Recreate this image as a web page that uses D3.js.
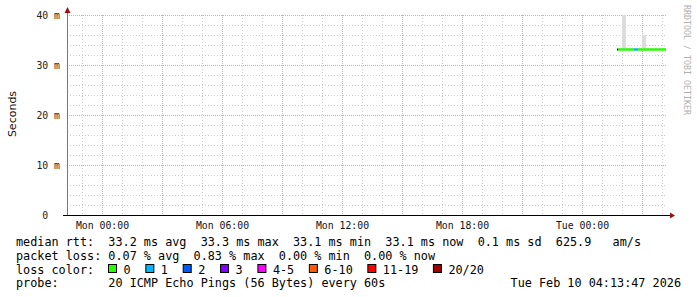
<!DOCTYPE html>
<html>
<head>
<meta charset="utf-8">
<script src="https://cdn.jsdelivr.net/npm/d3@7"></script>
<style>
  body { margin: 0; background: #fff; }
  svg text { white-space: pre; }
</style>
</head>
<body>
<svg id="chart" width="697" height="297"></svg>
<script>
// graph window: 30 hours ending at the time stamp
const endTime = new Date(Date.UTC(2026, 1, 10, 4, 13, 47));
const spanHours = 30;

// first sample (unknown loss), then 12-minute steps
const leadStartMin = 150;     // minutes before end
const leadMedian = 33.1;
const stepMinutes = 12;
const medianMs = [33.1, 33.1, 33.1, 33.1, 33.1, 33.1, 33.1, 33.1, 33.1, 33.1, 33.1, 33.1];
const lossCount = [0, 0, 0, 0, 1, 0, 0, 0, 0, 0, 0, 0];
const smokeHiMs = [33.4, 41.0, 33.4, 33.4, 33.4, 33.4, 36.0, 33.4, 33.4, 33.4, 33.4, 33.4];
const smokeLoMs = [32.9, 32.9, 32.9, 32.9, 32.9, 32.9, 32.9, 32.9, 32.9, 32.9, 32.9, 32.9];

const yTicks = [0, 10, 20, 30, 40];

const statsLines = [
  'median rtt:  33.2 ms avg  33.3 ms max  33.1 ms min  33.1 ms now  0.1 ms sd  625.9   am/s',
  'packet loss: 0.07 % avg  0.83 % max  0.00 % min  0.00 % now'
];
const lossLabels = ['0', '1', '2', '3', '4-5', '6-10', '11-19', '20/20'];
const lossColors = ['#26ff00', '#00b8ff', '#0059ff', '#7e00ff', '#ff00ff', '#ff5a00', '#ff0000', '#a00000'];
const probeText = 'probe:       20 ICMP Echo Pings (56 Bytes) every 60s';
const stampText = 'Tue Feb 10 04:13:47 2026';

const mono = '"DejaVu Sans Mono", monospace';
const margin = {left: 67, right: 30, top: 15};
const plotW = 600, plotH = 200;

const svg = d3.select('#chart');

const x = d3.scaleUtc()
  .domain([d3.utcHour.offset(endTime, -spanHours), endTime])
  .range([margin.left, margin.left + plotW]);
const y = d3.scaleLinear().domain([0, 40]).range([margin.top + plotH, margin.top]);

function lossColor(n) {
  if (n === null) return '#000';
  if (n <= 3) return lossColors[n];
  if (n <= 5) return lossColors[4];
  if (n <= 10) return lossColors[5];
  if (n <= 19) return lossColors[6];
  return lossColors[7];
}

// grid
const grid = svg.append('g');
const x0 = x.range()[0], x1 = x.range()[1];
const yTop = y(40), yBot = y(0);

d3.range(2, 40, 2).filter(v => v % 10 !== 0).forEach(v => {
  grid.append('line').attr('x1', x0).attr('x2', x1).attr('y1', y(v) + 0.5).attr('y2', y(v) + 0.5)
    .attr('stroke', '#cfcfcf').attr('stroke-dasharray', '1,2');
});
const hours = d3.utcHour.range(x.domain()[0], x.domain()[1]);
hours.filter(h => h.getUTCHours() % 3 !== 0).forEach(h => {
  const px = Math.round(x(h)) + 0.5;
  grid.append('line').attr('x1', px).attr('x2', px).attr('y1', yTop).attr('y2', yBot)
    .attr('stroke', '#cfcfcf').attr('stroke-dasharray', '1,2');
});
yTicks.filter(v => v > 0).forEach(v => {
  grid.append('line').attr('x1', x0).attr('x2', x1).attr('y1', y(v) + 0.5).attr('y2', y(v) + 0.5)
    .attr('stroke', '#e3a5a5').attr('stroke-dasharray', '1,1');
});
const majors = hours.filter(h => h.getUTCHours() % 3 === 0);
majors.forEach(h => {
  const px = Math.round(x(h)) + 0.5;
  grid.append('line').attr('x1', px).attr('x2', px).attr('y1', yTop).attr('y2', yBot)
    .attr('stroke', '#e3a5a5').attr('stroke-dasharray', '1,1');
});

// data
const data = medianMs.map((m, i) => ({
  t0: d3.utcMinute.offset(endTime, -leadStartMin + 3 + i * stepMinutes),
  t1: d3.utcMinute.offset(endTime, -leadStartMin + 3 + (i + 1) * stepMinutes),
  median: m, loss: lossCount[i], hi: smokeHiMs[i], lo: smokeLoMs[i]
}));

svg.append('clipPath').attr('id', 'plotclip').append('rect')
  .attr('x', x0).attr('y', yTop).attr('width', plotW).attr('height', plotH);
const plot = svg.append('g').attr('clip-path', 'url(#plotclip)');

plot.selectAll('rect.smoke').data(data).enter().append('rect')
  .attr('class', 'smoke')
  .attr('x', d => x(d.t0))
  .attr('width', d => x(d.t1) - x(d.t0))
  .attr('y', d => y(d.hi))
  .attr('height', d => y(d.lo) - y(d.hi))
  .attr('fill', '#dcdcdc');

const leadT0 = d3.utcMinute.offset(endTime, -leadStartMin);
plot.append('rect')
  .attr('x', x(leadT0)).attr('width', x(data[0].t0) - x(leadT0))
  .attr('y', y(leadMedian) - 1).attr('height', 2).attr('fill', lossColor(null));

plot.selectAll('rect.median').data(data).enter().append('rect')
  .attr('class', 'median')
  .attr('x', d => x(d.t0))
  .attr('width', d => x(d.t1) - x(d.t0))
  .attr('y', d => y(d.median) - 1.2)
  .attr('height', 2.4)
  .attr('fill', d => lossColor(d.loss));

// axes
svg.append('line').attr('x1', x0 + 0.5).attr('x2', x0 + 0.5).attr('y1', yTop - 4).attr('y2', yBot)
  .attr('stroke', '#777');
svg.append('line').attr('x1', x0 - 4).attr('x2', x1 + 4).attr('y1', yBot + 0.5).attr('y2', yBot + 0.5)
  .attr('stroke', '#000');
svg.append('path')
  .attr('d', `M${x0 - 2.5},${yTop - 2} L${x0 + 3.5},${yTop - 2} L${x0 + 0.5},${yTop - 8} Z`)
  .attr('fill', '#a01010');
svg.append('path')
  .attr('d', `M${x1 + 3},${yBot - 2.5} L${x1 + 3},${yBot + 3.5} L${x1 + 8},${yBot + 0.5} Z`)
  .attr('fill', '#a01010');

yTicks.forEach(v => {
  svg.append('text')
    .attr('x', 60).attr('y', y(v) + 0.5).attr('dy', '0.35em')
    .attr('text-anchor', 'end')
    .style('font', '9.8px ' + mono).attr('fill', '#222')
    .text(v === 0 ? '0  ' : v + ' m');
});

const fmt = d3.utcFormat('%a %H:%M');
majors.filter(h => h.getUTCHours() % 6 === 0).forEach(h => {
  svg.append('text')
    .attr('x', Math.round(x(h)) + 0.5).attr('y', 228.5)
    .attr('text-anchor', 'middle')
    .style('font', '9.8px ' + mono).attr('fill', '#111')
    .text(fmt(h));
});

svg.append('text')
  .attr('transform', 'translate(16,114) rotate(-90)')
  .attr('text-anchor', 'middle')
  .style('font', '11px "DejaVu Sans", sans-serif').attr('fill', '#111')
  .text('Seconds');

svg.append('text')
  .attr('transform', 'translate(684,5) rotate(90)')
  .attr('textLength', 110).attr('lengthAdjust', 'spacingAndGlyphs')
  .style('font', '9px ' + mono).attr('fill', '#b0b0b0')
  .text('RRDTOOL / TOBI OETIKER');

// legend
const legendFont = '11.8px ' + mono;
statsLines.forEach((s, i) => {
  svg.append('text').attr('x', 16).attr('y', 245.5 + i * 14)
    .style('font', legendFont).attr('fill', '#000').text(s);
});
svg.append('text').attr('x', 16).attr('y', 273.5)
  .style('font', legendFont).attr('fill', '#000').text('loss color:');
let bx = 108.5;
lossLabels.forEach((lab, i) => {
  svg.append('rect').attr('x', bx).attr('y', 264.5).attr('width', 8).attr('height', 8)
    .attr('fill', lossColors[i]).attr('stroke', '#000').attr('stroke-width', 1);
  svg.append('text').attr('x', bx + 15).attr('y', 273.5)
    .style('font', legendFont).attr('fill', '#000').text(lab);
  bx += 30.3 + lab.length * 7.05;
});
svg.append('text').attr('x', 16).attr('y', 287)
  .style('font', legendFont).attr('fill', '#000').text(probeText);
svg.append('text').attr('x', 681).attr('y', 287).attr('text-anchor', 'end')
  .style('font', legendFont).attr('fill', '#000').text(stampText);
</script>
</body>
</html>
